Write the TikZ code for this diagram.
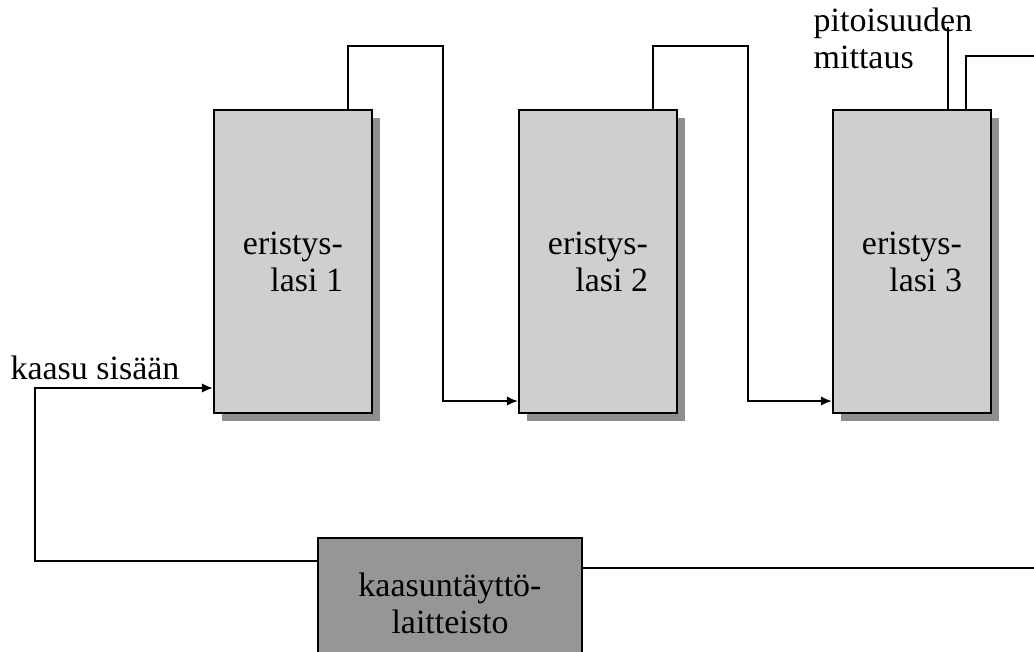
\documentclass[tikz,border=0pt]{standalone}
\usepackage{fontspec}
\setmainfont{Liberation Serif}
\usetikzlibrary{arrows.meta,shadows}

\definecolor{glassgray}{HTML}{CFCFCF}
\definecolor{shadowgray}{HTML}{8F8F8F}
\definecolor{unitgray}{HTML}{969696}

\begin{document}
\begin{tikzpicture}[
    x=0.365pt, y=-0.365pt,
    font=\fontsize{12.4}{13.5}\selectfont,
    glass/.style={draw, line width=0.75pt, fill=glassgray, align=left, minimum width=57.7pt, minimum height=110.6pt,
        drop shadow={shadow xshift=2.9pt, shadow yshift=-2.9pt, fill=shadowgray, opacity=1}},
    unit/.style={draw, line width=0.75pt, fill=unitgray, align=center, minimum width=96.4pt, minimum height=47.5pt},
    pipe/.style={line width=0.7pt},
    flow/.style={pipe, -{Latex[length=4pt, width=3.4pt]}}
]
\useasboundingbox (0,0) rectangle (1034,652);

% insulating glass units
\node[glass] (lasi1) at (293,261.5) {eristys-\\\hspace*{10pt}lasi 1};
\node[glass] (lasi2) at (598,261.5) {eristys-\\\hspace*{10pt}lasi 2};
\node[glass] (lasi3) at (912,261.5) {eristys-\\\hspace*{10pt}lasi 3};

% filling unit, runs off the bottom edge
\node[unit] (filler) at (450,603) {kaasuntäyttö-\\laitteisto};

\node (inlbl) at (95,368) {kaasu sisään};
\node[align=left] (meas) at (893,38) {pitoisuuden\\mittaus};

\coordinate (out) at (1034,56);
\coordinate (back) at (1034,568);

% glass to glass
\draw[flow] ([shift={(-25,0)}]lasi1.north east) |- (443,46) |- ([shift={(0,-13)}]lasi2.south west);
\draw[flow] ([shift={(-25,0)}]lasi2.north east) |- (748,46) |- ([shift={(0,-13)}]lasi3.south west);

% measurement and outlet
\draw[pipe] ([shift={(36,0)}]lasi3.north) -- ++(0,-82);
\draw[pipe] ([shift={(54,0)}]lasi3.north) |- (out);

% return and feed
\draw[pipe] (back) -- (back -| filler.east);
\draw[flow] ([shift={(0,-42)}]filler.west) -| (35,388) -- ([shift={(0,126.5)}]lasi1.west);
\end{tikzpicture}
\end{document}
